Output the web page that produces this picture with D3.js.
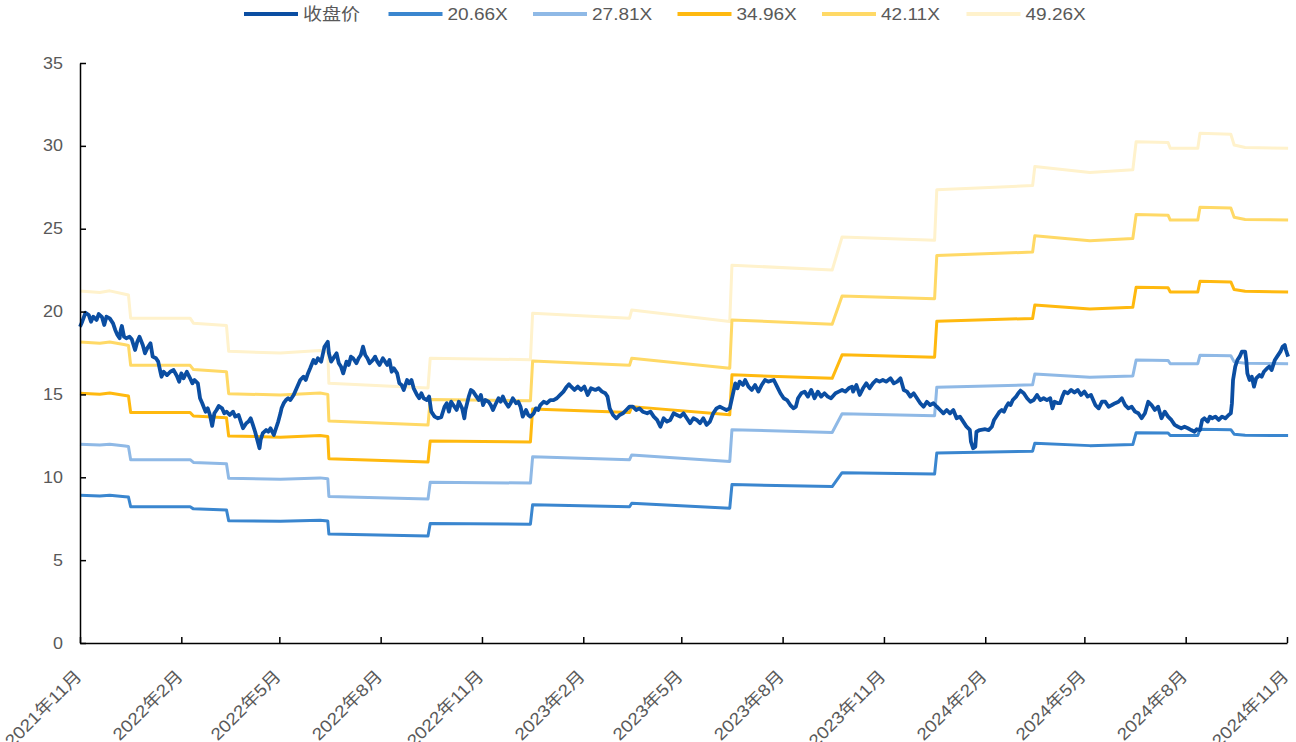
<!DOCTYPE html>
<html lang="zh">
<head>
<meta charset="utf-8">
<script src="https://d3js.org/d3.v7.min.js"></script>
<style>
  body { margin: 0; background: #fff; }
  svg text { font-family: "Liberation Sans", Arial, "Noto Sans CJK SC", sans-serif; fill: #595959; }
</style>
</head>
<body>
<svg width="1296" height="742"></svg>
<script>
// days are counted from 2021-11-01
var startDay = new Date(2021, 10, 1);

var seriesNames = ["收盘价", "20.66X", "27.81X", "34.96X", "42.11X", "49.26X"];
var multiples = [20.66, 27.81, 34.96, 42.11, 49.26];
var seriesColors = ["#0B4EA2", "#3A86CF", "#8FB9E6", "#FFB90F", "#FFD966", "#FFF2CC"];

var tickMonths = ["2021-11", "2022-02", "2022-05", "2022-08", "2022-11", "2023-02", "2023-05",
                  "2023-08", "2023-11", "2024-02", "2024-05", "2024-08", "2024-11"];
var tickLabels = ["2021年11月", "2022年2月", "2022年5月", "2022年8月", "2022年11月", "2023年2月", "2023年5月",
                  "2023年8月", "2023年11月", "2024年2月", "2024年5月", "2024年8月", "2024年11月"];
var yTicks = [0, 5, 10, 15, 20, 25, 30, 35];

// trailing EPS behind the PE bands: [day, eps]
var eps = [
  [0, 0.4312], [18, 0.4294], [27, 0.4314], [41, 0.4273], [44, 0.4263], [46, 0.3979],
  [100, 0.3979], [103, 0.3918], [133, 0.3888], [135, 0.3573], [182, 0.3553], [218, 0.3583],
  [225, 0.3563], [226, 0.3181], [316, 0.3124], [318, 0.3488], [409, 0.3471], [411, 0.4040],
  [499, 0.3979], [501, 0.4080], [590, 0.3938], [592, 0.4629], [683, 0.4568], [692, 0.4974],
  [776, 0.4933], [778, 0.5552], [865, 0.5603], [867, 0.5836], [917, 0.5765], [956, 0.5796],
  [959, 0.6141], [988, 0.6131], [990, 0.6060], [1015, 0.6060], [1017, 0.6244], [1045, 0.6232],
  [1048, 0.6100], [1058, 0.6070], [1097, 0.6060]
];

// closing price: [day, price]
var closePrice = [
  [0,19.09],[2,19.39],[5,19.93],[8,19.79],[10,19.39],[12,19.69],[15,19.49],[17,19.85],[20,19.66],[22,19.19],
  [24,19.69],[27,19.59],[30,19.29],[32,18.89],[34,18.59],[36,18.39],[37,18.89],[38,19.13],[40,18.48],[42,18.39],
  [45,18.48],[47,18.33],[50,17.68],[52,18.18],[54,18.48],[57,17.98],[59,17.48],[61,17.78],[64,18.09],[66,17.28],
  [69,17.18],[71,16.98],[73,16.37],[74,16.07],[76,16.37],[79,16.17],[82,16.37],[85,16.47],[88,16.11],[90,15.77],
  [92,16.27],[94,15.97],[97,16.37],[100,15.97],[102,15.67],[104,15.87],[107,15.67],[109,14.77],[111,14.47],[114,13.96],
  [116,14.16],[118,13.76],[120,13.10],[122,13.86],[124,14.06],[126,14.30],[129,14.16],[131,13.86],[133,13.96],[136,13.76],
  [139,13.96],[141,13.66],[144,13.76],[146,13.36],[148,12.96],[151,13.26],[153,13.36],[155,13.56],[157,13.16],[159,12.75],
  [161,12.25],[163,11.75],[164,12.25],[166,12.66],[169,12.85],[171,12.75],[173,12.96],[176,12.55],[178,12.96],[180,13.36],
  [182,13.86],[183,14.16],[185,14.47],[187,14.66],[189,14.77],[191,14.66],[194,14.97],[196,15.27],[198,15.57],[200,15.87],
  [203,16.07],[205,15.87],[207,16.27],[209,16.58],[212,17.08],[214,16.88],[216,17.18],[219,16.98],[220,17.28],[222,17.88],
  [225,18.18],[226,17.48],[228,16.98],[231,17.28],[233,17.48],[235,16.88],[237,16.68],[239,16.27],[242,16.98],[244,16.78],
  [246,17.28],[248,17.18],[251,16.88],[253,17.18],[255,17.38],[257,17.88],[259,17.38],[261,17.18],[263,16.88],[266,17.08],
  [268,17.28],[270,16.98],[272,16.78],[275,17.18],[277,16.98],[279,16.78],[281,17.08],[283,16.37],[285,16.58],[288,16.27],
  [290,15.67],[292,15.57],[294,15.27],[297,15.87],[299,15.67],[301,15.87],[303,15.37],[306,14.97],[308,14.77],[310,15.07],
  [312,14.77],[315,14.66],[317,14.87],[319,13.96],[322,13.66],[325,13.56],[328,13.62],[331,14.26],[333,14.47],[335,13.96],
  [337,14.56],[340,14.26],[342,14.06],[344,14.56],[347,14.16],[349,13.56],[350,14.06],[353,14.87],[355,15.27],[357,15.17],
  [360,14.87],[362,14.66],[364,14.97],[366,14.36],[368,14.66],[371,14.56],[373,14.36],[375,14.06],[377,14.36],[380,14.77],
  [382,14.56],[384,14.87],[386,14.56],[389,14.26],[391,14.47],[393,14.77],[396,14.47],[398,14.56],[400,14.26],[402,13.66],
  [405,14.06],[407,13.76],[409,13.66],[412,13.86],[414,14.16],[416,14.06],[418,14.36],[421,14.56],[424,14.47],[427,14.66],
  [430,14.66],[433,14.77],[436,14.97],[439,15.17],[442,15.47],[444,15.62],[446,15.47],[449,15.27],[452,15.47],[455,15.27],
  [458,15.47],[461,14.97],[464,15.37],[468,15.27],[471,15.37],[474,15.17],[477,15.07],[479,14.87],[481,14.16],[484,13.76],
  [487,13.56],[490,13.76],[493,13.86],[496,14.06],[499,14.26],[502,14.26],[505,14.06],[508,14.16],[511,13.96],[515,13.86],
  [518,13.96],[521,13.66],[524,13.46],[527,13.05],[530,13.56],[533,13.36],[536,13.46],[539,13.86],[542,13.76],[545,13.66],
  [548,13.86],[551,13.56],[554,13.26],[557,13.56],[560,13.46],[563,13.26],[566,13.56],[569,13.16],[572,13.36],[575,13.86],
  [578,14.16],[581,14.26],[584,14.16],[587,14.06],[590,14.16],[595,15.67],[597,15.37],[599,15.77],[602,15.57],[604,15.87],
  [607,15.47],[610,15.27],[613,15.57],[616,15.17],[619,15.57],[622,15.87],[625,15.77],[630,15.87],[633,15.47],[636,15.07],
  [639,14.77],[642,14.66],[645,14.36],[648,14.16],[650,14.26],[652,14.77],[655,15.07],[658,15.17],[661,14.87],[664,15.27],
  [667,14.77],[670,15.17],[673,14.87],[676,15.07],[679,14.87],[682,14.77],[686,15.07],[689,15.17],[692,15.27],[695,15.17],
  [698,15.37],[701,15.47],[702,15.17],[705,15.57],[708,14.97],[711,15.37],[714,15.67],[717,15.37],[720,15.67],[723,15.87],
  [726,15.77],[729,15.87],[732,15.77],[736,15.97],[739,15.67],[742,15.77],[745,15.97],[748,15.27],[751,15.17],[754,14.87],
  [757,15.07],[760,14.77],[763,14.47],[766,14.26],[769,14.56],[772,14.36],[775,14.47],[778,14.26],[781,14.06],[784,13.86],
  [787,14.06],[790,13.86],[793,14.06],[796,13.56],[799,13.66],[802,13.36],[805,13.05],[808,12.86],[809,12.15],[811,11.75],
  [813,11.85],[814,12.75],[817,12.85],[822,12.90],[825,12.85],[828,13.05],[830,13.46],[833,13.76],[835,13.96],[837,14.06],
  [839,13.96],[841,14.26],[843,14.47],[845,14.36],[847,14.66],[850,14.87],[852,15.07],[854,15.23],[857,15.07],[860,14.77],
  [863,14.56],[866,14.66],[869,14.97],[872,14.66],[875,14.77],[878,14.66],[881,14.77],[883,14.16],[885,14.56],[888,14.47],
  [890,14.47],[892,14.87],[894,15.17],[897,15.07],[900,15.27],[903,15.11],[906,15.27],[909,14.97],[912,15.17],[915,14.87],
  [918,14.97],[922,14.36],[925,14.16],[928,14.56],[931,14.56],[934,14.26],[937,14.36],[940,14.47],[943,14.56],[946,14.77],
  [949,14.36],[952,14.16],[955,14.26],[958,13.96],[961,13.86],[964,13.56],[967,13.86],[970,14.56],[973,14.36],[976,14.06],
  [979,14.26],[982,13.56],[985,13.96],[988,13.66],[991,13.46],[994,13.16],[997,13.05],[1000,12.96],[1003,13.05],[1006,12.96],
  [1009,12.85],[1012,12.75],[1014,12.90],[1017,12.85],[1019,13.46],[1021,13.56],[1024,13.36],[1026,13.66],[1028,13.56],[1031,13.66],
  [1034,13.46],[1037,13.66],[1040,13.56],[1043,13.76],[1045,13.86],[1046,14.47],[1047,15.87],[1049,16.68],[1051,17.08],[1053,17.28],
  [1055,17.58],[1058,17.58],[1059,17.08],[1060,16.27],[1062,15.87],[1064,16.07],[1066,15.47],[1068,15.97],[1071,16.17],[1073,16.07],
  [1075,16.37],[1078,16.58],[1080,16.68],[1082,16.47],[1085,17.08],[1087,17.28],[1090,17.58],[1092,17.88],[1094,17.98],[1095,17.68],
  [1097,17.28]
];

var svg = d3.select("svg");
var dayDate = function(d) { return d3.timeDay.offset(startDay, d); };
var stretch = 1.12;  // the source fonts render a little wider than Arial

var x = d3.scaleTime()
    .domain([startDay, new Date(2024, 10, 1)])
    .range([80, 1287]);
var y = d3.scaleLinear().domain([0, 35]).range([643, 63]);

var line = d3.line()
    .x(function(d) { return x(dayDate(d[0])); })
    .y(function(d) { return y(d[1]); });

// PE bands, lightest drawn first
for (var i = multiples.length - 1; i >= 0; i--) {
  var m = multiples[i];
  svg.append("path")
     .datum(eps.map(function(d) { return [d[0], d[1] * m]; }))
     .attr("fill", "none")
     .attr("stroke", seriesColors[i + 1])
     .attr("stroke-width", 3)
     .attr("stroke-linejoin", "round")
     .attr("d", line);
}

svg.append("path")
   .datum(closePrice)
   .attr("fill", "none")
   .attr("stroke", seriesColors[0])
   .attr("stroke-width", 3.8)
   .attr("stroke-linejoin", "round")
   .attr("d", line);

// axes
var tickDates = tickMonths.map(function(s) { return d3.timeParse("%Y-%m")(s); });

var gx = svg.append("g")
    .attr("transform", "translate(0,643)")
    .call(d3.axisBottom(x).tickValues(tickDates).tickSizeInner(-6).tickSizeOuter(0)
      .tickFormat(function(d, i) { return tickLabels[i]; }));
gx.selectAll("text")
  .attr("y", 0).attr("x", 0).attr("dy", "0.35em")
  .attr("transform", "translate(-2,30) rotate(-45) scale(" + stretch + ",1)")
  .style("text-anchor", "end")
  .style("font-size", "17px");

var gy = svg.append("g")
    .attr("transform", "translate(80,0)")
    .call(d3.axisLeft(y).tickValues(yTicks).tickSizeInner(-6).tickSizeOuter(0));
gy.selectAll("text")
  .attr("x", 0)
  .attr("transform", "translate(-17,0) scale(" + stretch + ",1)")
  .style("font-size", "16px");

svg.selectAll(".domain, .tick line").attr("stroke", "#000").attr("stroke-width", 1.5);

// legend
var legend = svg.append("g");
seriesNames.forEach(function(name, i) {
  var lx = 244 + i * 144.5;
  legend.append("line")
    .attr("x1", lx).attr("x2", lx + 54)
    .attr("y1", 14).attr("y2", 14)
    .attr("stroke", seriesColors[i])
    .attr("stroke-width", 4);
  legend.append("text")
    .attr("transform", "translate(" + (lx + 59) + ",14) scale(" + stretch + ",1)")
    .attr("dy", "0.35em")
    .style("font-size", "17px")
    .text(name);
});
</script>
</body>
</html>
